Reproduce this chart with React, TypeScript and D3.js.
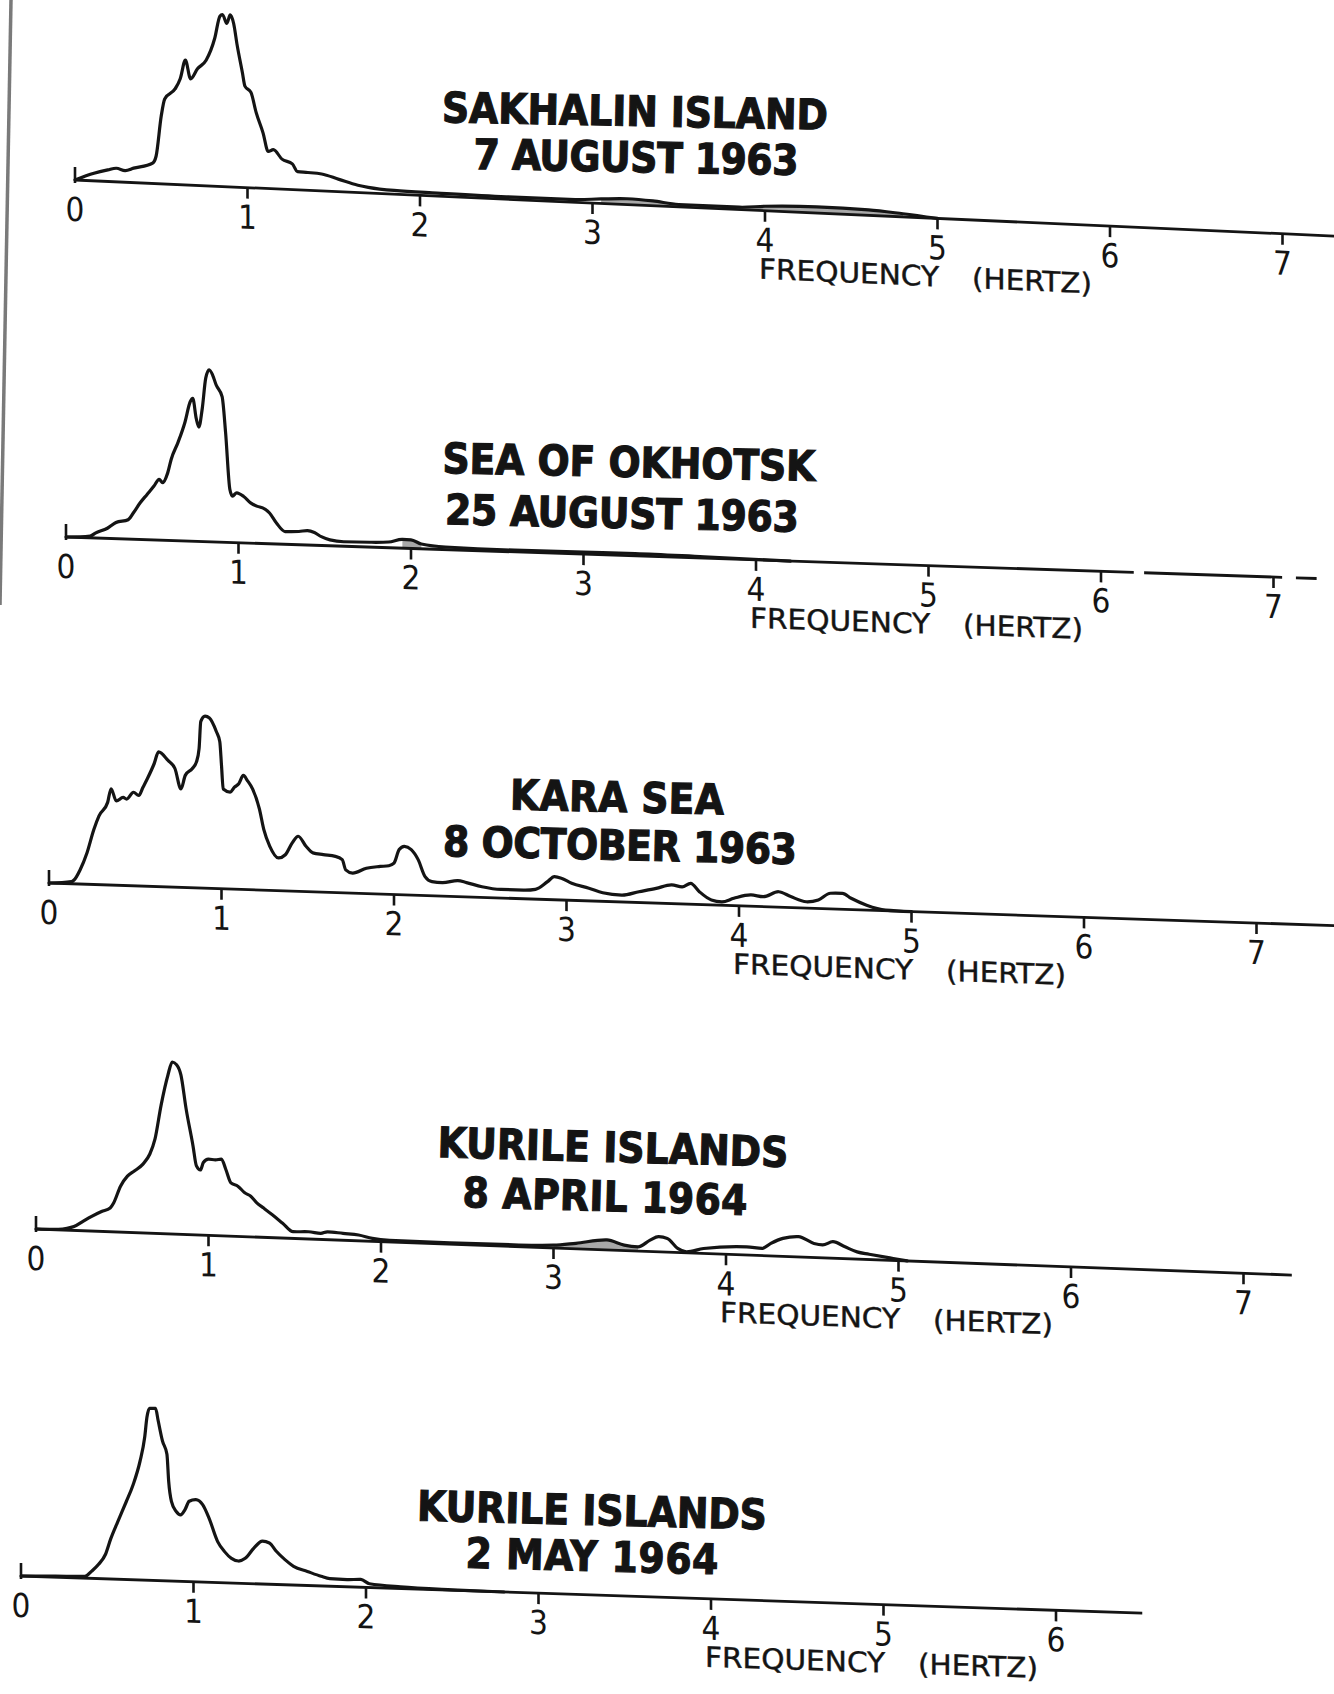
import React from 'react'
import * as d3 from 'd3'

// frequency ticks (hertz)
const TICKS_7 = [0, 1, 2, 3, 4, 5, 6, 7]
const TICKS_6 = [0, 1, 2, 3, 4, 5, 6]

// spectra: [frequency Hz, relative amplitude, peak = 100]
const SAKHALIN: [number, number][] = [
  [0, 0], [0.11, 4.4], [0.19, 6.7], [0.24, 7.9], [0.29, 6.8], [0.34, 8.4], [0.45, 11.8], [0.47, 15.9],
  [0.5, 39.5], [0.52, 49.4], [0.58, 55.5], [0.61, 61.6], [0.64, 72.5], [0.67, 61.8], [0.71, 67.8],
  [0.76, 73], [0.81, 86], [0.84, 99], [0.855, 100], [0.88, 95], [0.9, 100], [0.92, 95], [0.94, 82.6],
  [0.97, 67], [0.985, 59], [1.02, 55.5], [1.05, 44], [1.09, 32.3], [1.12, 21.6], [1.15, 22.8],
  [1.2, 17.5], [1.26, 15], [1.29, 10.6], [1.35, 10.4], [1.43, 9.9], [1.53, 7.2], [1.64, 4.3],
  [1.7, 3.3], [1.85, 2.2], [2.1, 1.8], [2.5, 1.4], [2.9, 1.6], [3.05, 2.6], [3.2, 3.4], [3.35, 2.8],
  [3.5, 1.4], [3.85, 1.4], [4.0, 2.6], [4.3, 3.6], [4.6, 3.2], [4.8, 1.8], [5.0, 0]
]

const OKHOTSK: [number, number][] = [
  [0, 0], [0.14, 1], [0.17, 2.8], [0.24, 5.9], [0.29, 9.4], [0.36, 11.2], [0.39, 15.2], [0.43, 21.3],
  [0.47, 26.3], [0.51, 31.3], [0.54, 35.3], [0.56, 33.5], [0.59, 39.4], [0.61, 47.3], [0.65, 57.3],
  [0.69, 69.2], [0.72, 81], [0.735, 83], [0.755, 71.4], [0.77, 66.5], [0.79, 77.4], [0.81, 95],
  [0.83, 100], [0.85, 97], [0.87, 91.4], [0.905, 84.6], [0.925, 64], [0.95, 30.8], [0.965, 27],
  [0.99, 29], [1.03, 27], [1.07, 23.4], [1.11, 21.5], [1.14, 20.7], [1.18, 17.9], [1.22, 12.2],
  [1.27, 7.4], [1.35, 7.7], [1.4, 8.4], [1.44, 7.4], [1.48, 5.1], [1.53, 3.4], [1.61, 2.6],
  [1.76, 2.8], [1.87, 3.3], [1.95, 5.1], [2.0, 5], [2.06, 2.8], [2.2, 1.5], [2.6, 1], [3.0, 1.2],
  [3.3, 1.4], [3.7, 0.8], [4.2, 0]
]

const KARA: [number, number][] = [
  [0, 0], [0.13, 1.2], [0.145, 2.2], [0.18, 8.2], [0.22, 18.2], [0.26, 32], [0.29, 40], [0.34, 48],
  [0.36, 56], [0.39, 49], [0.43, 51.2], [0.45, 50.3], [0.49, 54.4], [0.52, 52.6], [0.545, 57.5],
  [0.57, 62.5], [0.61, 71.5], [0.635, 78.3], [0.69, 73.6], [0.73, 69], [0.765, 57.2], [0.79, 65.2],
  [0.83, 69.2], [0.855, 73.3], [0.87, 81], [0.88, 96.9], [0.905, 100], [0.93, 99], [0.97, 91.3],
  [0.99, 85.5], [1.0, 71.7], [1.01, 58], [1.05, 56.3], [1.075, 59.3], [1.1, 61.4], [1.127, 66.3],
  [1.15, 63.4], [1.18, 58.6], [1.22, 47], [1.245, 35.3], [1.28, 25.6], [1.33, 19], [1.37, 21],
  [1.41, 28], [1.445, 32], [1.49, 26.3], [1.53, 22.6], [1.59, 21.8], [1.66, 21], [1.7, 19.2],
  [1.72, 13.4], [1.76, 11.6], [1.84, 14.7], [1.92, 16], [1.97, 16.6], [2.0, 18.2], [2.03, 26.2],
  [2.06, 28.2], [2.1, 26.4], [2.14, 20.7], [2.18, 11], [2.22, 8.2], [2.28, 7.8], [2.37, 9.3],
  [2.42, 8.3], [2.51, 6.2], [2.62, 5], [2.75, 5], [2.82, 5.7], [2.89, 10.4], [2.93, 13.5],
  [2.97, 12.7], [3.03, 9.9], [3.13, 7.4], [3.21, 5], [3.32, 4], [3.42, 6.3], [3.52, 8.6],
  [3.61, 10.9], [3.67, 10], [3.72, 12.2], [3.77, 7.5], [3.84, 2.9], [3.9, 2], [3.97, 4.3],
  [4.07, 6.6], [4.14, 5.8], [4.23, 9], [4.3, 6.4], [4.39, 3.7], [4.46, 5], [4.53, 9.1], [4.6, 9.3],
  [4.65, 6.6], [4.74, 2.9], [4.85, 0.4], [5.0, 0]
]

const KURILE_APR: [number, number][] = [
  [0, 0], [0.13, 0.3], [0.18, 1], [0.22, 2.2], [0.27, 5.3], [0.32, 8.4], [0.38, 11.6], [0.43, 13.8],
  [0.45, 16.8], [0.49, 26.7], [0.53, 32.7], [0.57, 35.8], [0.62, 40], [0.66, 46], [0.69, 54.9],
  [0.725, 74.6], [0.765, 92.4], [0.79, 100], [0.815, 98.5], [0.84, 92.7], [0.87, 73.2], [0.91, 51.8],
  [0.93, 40.1], [0.953, 37.8], [0.97, 42.2], [1.0, 44.3], [1.04, 44], [1.075, 44.6], [1.1, 38.8],
  [1.13, 31], [1.17, 29.2], [1.21, 25.5], [1.245, 23.6], [1.28, 19.9], [1.32, 17], [1.37, 13.3],
  [1.43, 8.6], [1.49, 3.9], [1.58, 4.2], [1.65, 3.5], [1.69, 4.6], [1.78, 4], [1.87, 3.4],
  [1.95, 1.7], [2.05, 1], [2.4, 0.8], [2.8, 1], [3.0, 1.6], [3.13, 3.2], [3.31, 5.8], [3.41, 3.2],
  [3.49, 2.5], [3.56, 6.6], [3.61, 8.8], [3.66, 8], [3.72, 2.4], [3.77, 0.6], [3.87, 2.9],
  [4.12, 4.8], [4.21, 4.2], [4.26, 7.3], [4.33, 10.5], [4.42, 11.8], [4.51, 8.2], [4.56, 7.5],
  [4.62, 9.6], [4.69, 6.9], [4.76, 4.2], [4.83, 3.1], [4.97, 1.1], [5.05, 0]
]

const KURILE_MAY: [number, number][] = [
  [0, 0], [0.2, 0.6], [0.37, 1], [0.41, 4.2], [0.45, 8.3], [0.49, 14.3], [0.52, 23.3], [0.56, 33.2],
  [0.61, 45.2], [0.65, 55.2], [0.69, 69], [0.717, 83], [0.73, 94.7], [0.745, 100], [0.78, 100],
  [0.795, 93], [0.82, 81.3], [0.846, 73.6], [0.856, 58], [0.872, 46.3], [0.9, 40.5], [0.925, 38.6],
  [0.95, 41.6], [0.975, 46.7], [1.014, 47.8], [1.053, 45], [1.09, 37.3], [1.14, 23.8], [1.18, 18.1],
  [1.22, 14.3], [1.26, 12.9], [1.3, 14.6], [1.35, 20.7], [1.4, 24.9], [1.44, 24], [1.48, 19.3],
  [1.53, 14.6], [1.58, 10.9], [1.66, 8.2], [1.74, 5.6], [1.79, 4.4], [1.89, 4.2], [1.97, 4.6],
  [2.02, 2.2], [2.2, 1], [2.5, 0.3], [2.8, 0]
]

const TITLES = ['SAKHALIN ISLAND', 'SEA OF OKHOTSK', 'KARA SEA', 'KURILE ISLANDS', 'KURILE ISLANDS']
const DATES = ['7 AUGUST 1963', '25 AUGUST 1963', '8 OCTOBER 1963', '8 APRIL 1964', '2 MAY 1964']
const SERIES = [SAKHALIN, OKHOTSK, KARA, KURILE_APR, KURILE_MAY]
const AXIS_TICKS = [TICKS_7, TICKS_7, TICKS_7, TICKS_7, TICKS_6]
// faint grey smudges between the trace and the axis (scan artefacts)
const SHADED: [number, number][][] = [
  [[2.95, 3.5], [3.85, 4.85]],
  [[1.88, 2.08]],
  [],
  [[3.0, 3.5], [3.8, 4.1]],
  []
]

// page layout (px); each axis runs slightly downhill
const LAYOUT = [
  { ox: 75, oy: 180, angle: 2.55, axisEnd: 7.35, gaps: [] as [number, number][], t1: [635, 111, 386], t2: [636, 157, 325], rot: 1.1 },
  { ox: 66, oy: 537, angle: 1.9, axisEnd: 7.25, gaps: [[6.19, 6.25], [7.05, 7.13]] as [number, number][], t1: [629, 462, 373], t2: [622, 513, 354], rot: 1.2 },
  { ox: 49, oy: 883, angle: 1.9, axisEnd: 7.45, gaps: [] as [number, number][], t1: [617, 797, 214], t2: [620, 845, 354], rot: 1.3 },
  { ox: 36, oy: 1229, angle: 2.1, axisEnd: 7.28, gaps: [] as [number, number][], t1: [613, 1147, 351], t2: [605, 1196, 285], rot: 1.6 },
  { ox: 21, oy: 1576, angle: 1.9, axisEnd: 6.5, gaps: [] as [number, number][], t1: [592, 1510, 350], t2: [592, 1556, 253], rot: 1.5 }
]

const UNIT = 172.5 // px per hertz
const PEAK = 172 // px for amplitude 100
const NARROW = "'Liberation Sans Narrow', 'DejaVu Sans Condensed', 'Arial Narrow', sans-serif"
const INK = '#141414'

function Panel({ i }: { i: number }) {
  const lay = LAYOUT[i]
  const data = SERIES[i]
  const ticks = AXIS_TICKS[i]

  const x = d3.scaleLinear().domain([0, 7]).range([0, 7 * UNIT])
  const y = d3.scaleLinear().domain([0, 100]).range([0, -PEAK])

  const curve = d3.curveMonotoneX
  const line = d3.line<[number, number]>().x(d => x(d[0])).y(d => y(d[1])).curve(curve)
  const area = d3.area<[number, number]>().x(d => x(d[0])).y0(0).y1(d => y(d[1])).curve(curve)

  // axis pieces, split where the scan shows breaks
  const pieces: [number, number][] = []
  let start = 0
  lay.gaps.forEach(([a, b]) => { pieces.push([start, a]); start = b })
  pieces.push([start, lay.axisEnd])

  // shear the panel so the axis slopes while verticals stay vertical
  const slope = Math.tan((lay.angle * Math.PI) / 180)

  return (
    <g>
      <g transform={`matrix(1,${slope},0,1,${lay.ox},${lay.oy})`}>
        {SHADED[i].map(([a, b], k) => (
          <path key={k} d={area(data.filter(d => d[0] >= a && d[0] <= b)) || ''} fill="#a8a8a8" />
        ))}
        {pieces.map(([a, b], k) => (
          <line key={k} x1={x(a)} x2={x(b)} y1={0} y2={0} stroke={INK} strokeWidth={2.8} />
        ))}
        {ticks.map(t => (
          <g key={t} transform={`translate(${x(t)},0)`}>
            <line y1={t === 0 ? -13 : 0} y2={t === 0 ? 3 : 11} stroke={INK} strokeWidth={2.6} />
            <text y={41} textAnchor="middle" fontFamily={NARROW} fontSize={33} fill={INK}>{t}</text>
          </g>
        ))}
        <text x={x(4) - 6} y={68} fontFamily={NARROW} fontSize={28} fill={INK} stroke={INK} strokeWidth={0.4}
          textLength={180} lengthAdjust="spacingAndGlyphs">FREQUENCY</text>
        <text x={x(4) + 207} y={68} fontFamily={NARROW} fontSize={28} fill={INK} stroke={INK} strokeWidth={0.4}
          textLength={120} lengthAdjust="spacingAndGlyphs">(HERTZ)</text>
        <path d={line(data) || ''} fill="none" stroke={INK} strokeWidth={3.2}
          strokeLinejoin="round" strokeLinecap="round" />
      </g>
      {[[TITLES[i], lay.t1], [DATES[i], lay.t2]].map(([txt, pos], k) => {
        const [cx, cy, w] = pos as number[]
        return (
          <text key={k} x={cx} y={cy + 15} textAnchor="middle" fontFamily={NARROW}
            fontWeight={700} fontSize={42} fill={INK} stroke={INK} strokeWidth={1.1}
            textLength={w} lengthAdjust="spacing"
            transform={`rotate(${lay.rot},${cx},${cy})`}>{txt as string}</text>
        )
      })}
    </g>
  )
}

export default function App() {
  return (
    <svg width={1334} height={1694} viewBox="0 0 1334 1694"
      style={{ position: 'absolute', left: 0, top: 0, background: '#fff', display: 'block' }}>
      <rect width={1334} height={1694} fill="#fff" />
      {/* binding edge of the scanned page */}
      <line x1={11} y1={0} x2={0} y2={605} stroke="#7a7a7a" strokeWidth={3.5} />
      {SERIES.map((_, i) => <Panel key={i} i={i} />)}
    </svg>
  )
}
